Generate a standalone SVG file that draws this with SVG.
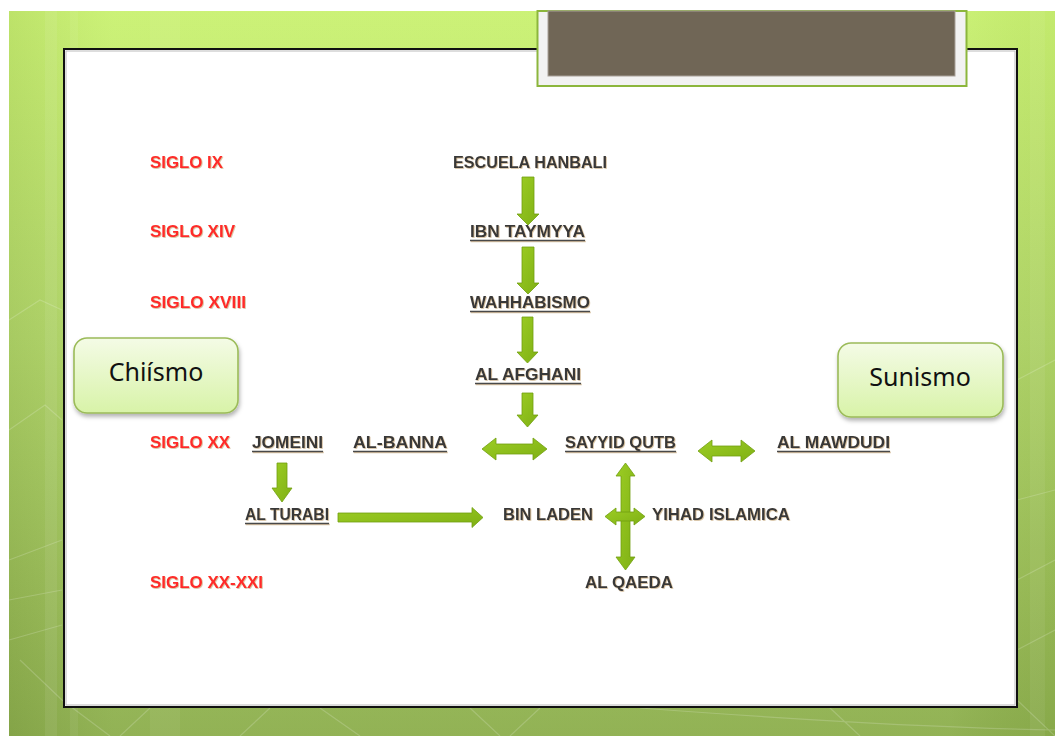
<svg xmlns="http://www.w3.org/2000/svg" width="1055" height="736" viewBox="0 0 1055 736">
<defs>
<linearGradient id="bg" x1="0" y1="0" x2="0" y2="1">
<stop offset="0" stop-color="#c9f170"/>
<stop offset="0.45" stop-color="#b2d768"/>
<stop offset="1" stop-color="#8cae4c"/>
</linearGradient>
<linearGradient id="bgside" x1="0" y1="0" x2="1" y2="0">
<stop offset="0" stop-color="#000" stop-opacity="0.06"/>
<stop offset="0.1" stop-color="#fff" stop-opacity="0.05"/>
<stop offset="0.9" stop-color="#fff" stop-opacity="0.05"/>
<stop offset="1" stop-color="#000" stop-opacity="0.03"/>
</linearGradient>
<linearGradient id="boxg" x1="0" y1="0" x2="0" y2="1">
<stop offset="0" stop-color="#f4fbe6"/>
<stop offset="1" stop-color="#d8f3a8"/>
</linearGradient>
<linearGradient id="arr" x1="0" y1="0" x2="1" y2="1">
<stop offset="0" stop-color="#9ccd24"/>
<stop offset="1" stop-color="#7fb014"/>
</linearGradient>
<filter id="sh" x="-20%" y="-20%" width="140%" height="150%">
<feDropShadow dx="1" dy="3" stdDeviation="2" flood-color="#000" flood-opacity="0.3"/>
</filter>
<filter id="tsh" x="-5%" y="-20%" width="110%" height="150%">
<feDropShadow dx="0.8" dy="0.8" stdDeviation="0.4" flood-color="#b08a50" flood-opacity="0.6"/>
</filter>
<style>
.lbl{font-family:"Liberation Sans",Arial,sans-serif;font-weight:bold;font-size:16.5px;fill:#383838}
.sig{fill:#ff2a2a}
.ul{stroke:#4a4a4a;stroke-width:1.6}
.ar{fill:url(#arr);stroke:#719f10;stroke-width:0.8;stroke-linejoin:miter}
.box{fill:url(#boxg);stroke:#9bbb59;stroke-width:1.6}
.bt{font-family:"Noto Sans","Open Sans",Arial,sans-serif;font-size:25px;fill:#111;text-anchor:middle}
.deco{stroke:#fff;stroke-opacity:0.18;fill:none;stroke-width:1.2}
</style>
</defs>
<rect x="0" y="0" width="1055" height="736" fill="#fff"/>
<g id="background">
<rect x="9" y="11" width="1046" height="725" fill="url(#bg)"/>
<rect x="9" y="11" width="1046" height="725" fill="url(#bgside)"/>
<rect x="45" y="11" width="12" height="725" fill="#fff" opacity="0.07"/>
<rect x="70" y="11" width="8" height="725" fill="#fff" opacity="0.06"/>
<rect x="150" y="11" width="30" height="725" fill="#fff" opacity="0.05"/>
<rect x="1030" y="11" width="15" height="725" fill="#fff" opacity="0.06"/>
<path class="deco" d="M9 320 L40 300 L62 310 M9 430 L45 405 L62 420 M9 560 L62 540 M9 600 L62 590 M9 640 L62 625 M20 660 L62 700 L110 736 M150 708 L120 736 M320 708 L360 736 M470 708 L500 736 M540 708 L510 736 M830 708 L860 736 M1017 380 L1055 360 M1017 500 L1055 490 M1017 580 L1055 560 M1017 650 L1055 630 M1017 700 L1055 736 M640 708 C800 720 950 728 1055 730 M270 708 L240 736"/>
</g>
<g id="panel">
<rect x="64" y="49" width="953" height="658" fill="#fff" stroke="#111" stroke-width="2"/>
<rect x="66" y="51" width="949" height="654" fill="none" stroke="#bbb" stroke-width="1"/>
</g>
<g id="title-tab">
<rect x="537.5" y="11" width="429" height="75" fill="#f2f2f2" stroke="#8cb63c" stroke-width="2"/>
<rect x="548" y="11" width="407" height="65" fill="#706656" stroke="#a8a098" stroke-width="1"/>
</g>
<g id="connectors">
<polygon class="ar" points="522,177 534,177 534,214 539,214 528,225 517,214 522,214"/>
<polygon class="ar" points="522,247 534,247 534,283 539,283 528,294 517,283 522,283"/>
<polygon class="ar" points="522,317 533,317 533,352 538,352 527.5,363 517,352 522,352"/>
<polygon class="ar" points="522,393 533,393 533,415 538,415 527.5,427 517,415 522,415"/>
<polygon class="ar" points="277,463 287,463 287,488 292,488 282,502 272,488 277,488"/>
<polygon class="ar" points="338,513 472,513 472,507.5 483,517.5 472,527.5 472,522 338,522"/>
<polygon class="ar" points="482,449 496,438 496,444 533,444 533,438 547,449 533,460 533,454 496,454 496,460"/>
<polygon class="ar" points="698,451 712,440 712,446 741,446 741,440 755,451 741,462 741,456 712,456 712,462"/>
<polygon class="ar" points="625.5,463 635,476 630,476 630,557 635,557 625.5,570 616,557 621,557 621,476 616,476"/>
<polygon class="ar" points="605,516.5 616,508 616,512 634,512 634,508 645,516.5 634,525 634,521 616,521 616,525"/>
</g>
<g id="centuries" filter="url(#tsh)">
<text class="lbl sig" x="150" y="168" textLength="73" lengthAdjust="spacingAndGlyphs">SIGLO IX</text>
<text class="lbl sig" x="150" y="237" textLength="85" lengthAdjust="spacingAndGlyphs">SIGLO XIV</text>
<text class="lbl sig" x="150" y="308" textLength="96" lengthAdjust="spacingAndGlyphs">SIGLO XVIII</text>
<text class="lbl sig" x="150" y="448" textLength="80" lengthAdjust="spacingAndGlyphs">SIGLO XX</text>
<text class="lbl sig" x="150" y="588" textLength="113" lengthAdjust="spacingAndGlyphs">SIGLO XX-XXI</text>
</g>
<g id="escuela-hanbali" filter="url(#tsh)">
<text class="lbl" x="453" y="168" textLength="154" lengthAdjust="spacingAndGlyphs">ESCUELA HANBALI</text>
</g>
<g id="ibn-taymyya" filter="url(#tsh)">
<text class="lbl" x="470" y="237" textLength="115" lengthAdjust="spacingAndGlyphs">IBN TAYMYYA</text>
<line class="ul" x1="470" y1="240.5" x2="585" y2="240.5"/>
</g>
<g id="wahhabismo" filter="url(#tsh)">
<text class="lbl" x="470" y="308" textLength="120" lengthAdjust="spacingAndGlyphs">WAHHABISMO</text>
<line class="ul" x1="470" y1="311.5" x2="590" y2="311.5"/>
</g>
<g id="al-afghani" filter="url(#tsh)">
<text class="lbl" x="475" y="380" textLength="106" lengthAdjust="spacingAndGlyphs">AL AFGHANI</text>
<line class="ul" x1="475" y1="383.5" x2="581" y2="383.5"/>
</g>
<g id="jomeini" filter="url(#tsh)">
<text class="lbl" x="252" y="448" textLength="71" lengthAdjust="spacingAndGlyphs">JOMEINI</text>
<line class="ul" x1="252" y1="451.5" x2="323" y2="451.5"/>
</g>
<g id="al-banna" filter="url(#tsh)">
<text class="lbl" x="353" y="448" textLength="94" lengthAdjust="spacingAndGlyphs">AL-BANNA</text>
<line class="ul" x1="353" y1="451.5" x2="447" y2="451.5"/>
</g>
<g id="sayyid-qutb" filter="url(#tsh)">
<text class="lbl" x="565" y="448" textLength="111" lengthAdjust="spacingAndGlyphs">SAYYID QUTB</text>
<line class="ul" x1="565" y1="451.5" x2="676" y2="451.5"/>
</g>
<g id="al-mawdudi" filter="url(#tsh)">
<text class="lbl" x="777" y="448" textLength="113" lengthAdjust="spacingAndGlyphs">AL MAWDUDI</text>
<line class="ul" x1="777" y1="451.5" x2="890" y2="451.5"/>
</g>
<g id="al-turabi" filter="url(#tsh)">
<text class="lbl" x="245" y="520" textLength="84" lengthAdjust="spacingAndGlyphs">AL TURABI</text>
<line class="ul" x1="245" y1="523.5" x2="329" y2="523.5"/>
</g>
<g id="bin-laden" filter="url(#tsh)">
<text class="lbl" x="503" y="520" textLength="90" lengthAdjust="spacingAndGlyphs">BIN LADEN</text>
</g>
<g id="yihad-islamica" filter="url(#tsh)">
<text class="lbl" x="652" y="520" textLength="138" lengthAdjust="spacingAndGlyphs">YIHAD ISLAMICA</text>
</g>
<g id="al-qaeda" filter="url(#tsh)">
<text class="lbl" x="585" y="588" textLength="88" lengthAdjust="spacingAndGlyphs">AL QAEDA</text>
</g>
<g id="chiismo">
<rect class="box" x="74" y="338" width="164" height="75" rx="13" filter="url(#sh)"/>
<text class="bt" x="156" y="381">Chiísmo</text>
</g>
<g id="sunismo">
<rect class="box" x="838" y="343" width="165" height="74" rx="13" filter="url(#sh)"/>
<text class="bt" x="920" y="386">Sunismo</text>
</g>
</svg>
